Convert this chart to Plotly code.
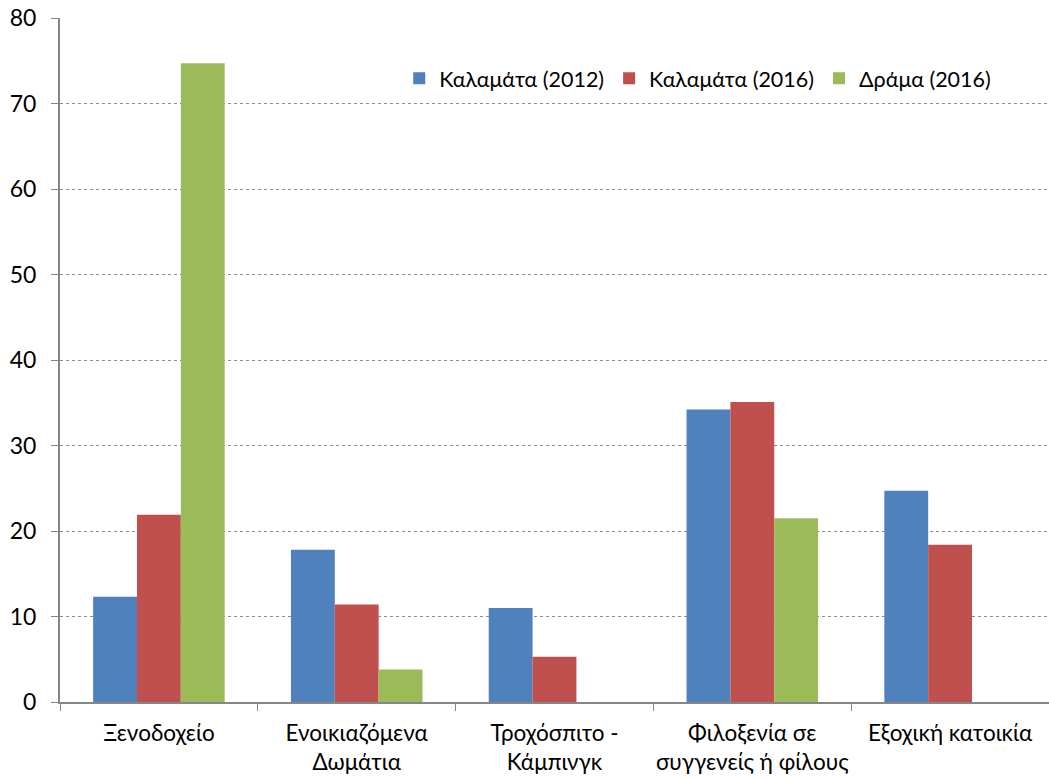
import plotly.graph_objects as go

categories = ["Ξενοδοχείο", "Ενοικιαζόμενα<br>Δωμάτια", "Τροχόσπιτο -<br>Κάμπινγκ",
              "Φιλοξενία σε<br>συγγενείς ή φίλους", "Εξοχική κατοικία"]
kalamata_2012 = [12.3, 17.8, 11.0, 34.2, 24.7]
kalamata_2016 = [21.9, 11.4, 5.3, 35.1, 18.4]
drama_2016 = [74.7, 3.8, 0, 21.5, 0]

series = [
    ("Καλαμάτα (2012)", kalamata_2012, "#4F81BD"),
    ("Καλαμάτα (2016)", kalamata_2016, "#C0504D"),
    ("Δράμα (2016)", drama_2016, "#9BBB59"),
]

fig = go.Figure()
for name, vals, color in series:
    fig.add_trace(go.Bar(x=categories, y=vals, name=name,
                         marker=dict(color=color, line=dict(width=0))))

font_family = "Lato, 'Open Sans', sans-serif"
fig.update_layout(
    width=1049, height=778,
    margin=dict(l=60, r=0, t=18, b=76),
    plot_bgcolor="white", paper_bgcolor="white",
    barmode="group", bargap=0.335, bargroupgap=0,
    font=dict(family=font_family, size=22, color="#000000"),
    legend=dict(orientation="h", x=0.343, y=0.912, xanchor="left", yanchor="middle",
                font=dict(size=21.5), bgcolor="rgba(0,0,0,0)", itemwidth=30,
                tracegroupgap=0),
    showlegend=True,
)
fig.update_yaxes(range=[0, 80], dtick=10, showgrid=True, gridcolor="#8C8C8C",
                 griddash="dot", gridwidth=1, showline=True, linecolor="#868686",
                 linewidth=2, ticks="outside", ticklen=7, tickcolor="#868686",
                 zeroline=False, tickfont=dict(size=23), automargin=False,
                 ticklabelstandoff=10)
fig.update_xaxes(showline=True, linecolor="#868686", linewidth=2, ticks="outside",
                 tickson="boundaries", ticklen=7, tickcolor="#868686",
                 tickfont=dict(size=22.5), automargin=False, ticklabelstandoff=10,
                 tickangle=0)

fig.write_html("out.html", config={"displayModeBar": False},
               post_script="document.body.style.margin='0';")
